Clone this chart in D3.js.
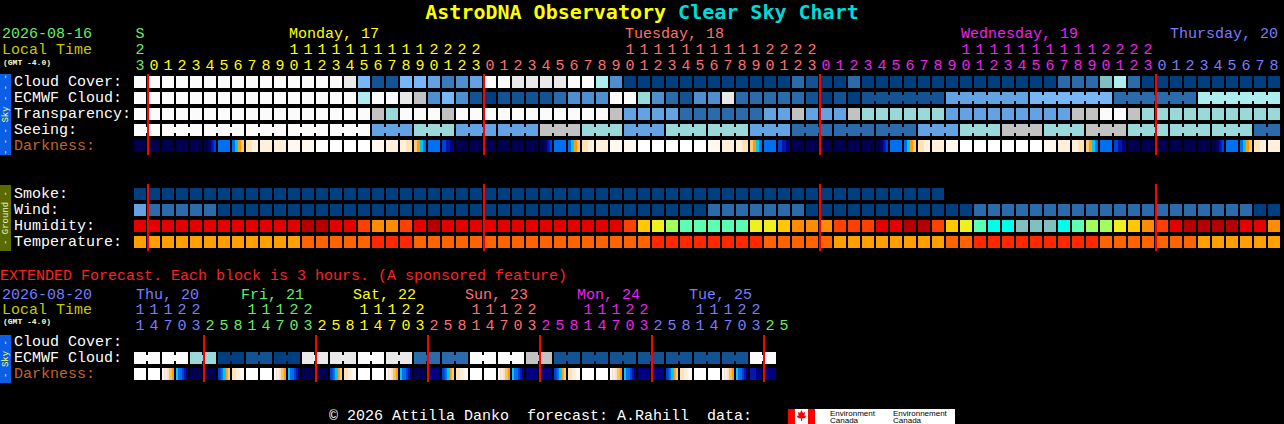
<!DOCTYPE html>
<html>
<head>
<meta charset="utf-8">
<script src="https://cdn.jsdelivr.net/npm/d3@7"></script>
<style>
  body { margin: 0; background: #000; }
  svg { display: block; }
  text { font-family: "Liberation Mono", "DejaVu Sans Mono", monospace; white-space: pre; }
</style>
</head>
<body>
<svg id="chart" width="1284" height="424"></svg>
<script>
// ---------- data ----------
const titleA = "AstroDNA Observatory";
const titleB = "Clear Sky Chart";

const mainDates    = [16, 17, 18, 19, 20];
const mainDayNames = ["S", "Monday, 17", "Tuesday, 18", "Wednesday, 19", "Thursday, 20"];
const mainHours = [
  [23],
  [0,1,2,3,4,5,6,7,8,9,10,11,12,13,14,15,16,17,18,19,20,21,22,23],
  [0,1,2,3,4,5,6,7,8,9,10,11,12,13,14,15,16,17,18,19,20,21,22,23],
  [0,1,2,3,4,5,6,7,8,9,10,11,12,13,14,15,16,17,18,19,20,21,22,23],
  [0,1,2,3,4,5,6,7,8]
];

const extDates    = [20, 21, 22, 23, 24, 25, 26];
const extDayNames = ["Thu, 20", "Fri, 21", "Sat, 22", "Sun, 23", "Mon, 24", "Tue, 25", ""];
const extHours = [
  [11,14,17,20,23],
  [2,5,8,11,14,17,20,23],
  [2,5,8,11,14,17,20,23],
  [2,5,8,11,14,17,20,23],
  [2,5,8,11,14,17,20,23],
  [2,5,8,11,14,17,20,23],
  [2,5]
];

const skyRowNames    = ["Cloud Cover:", "ECMWF Cloud:", "Transparency:", "Seeing:", "Darkness:"];
const groundRowNames = ["Smoke:", "Wind:", "Humidity:", "Temperature:"];
const extRowNames    = ["Cloud Cover:", "ECMWF Cloud:", "Darkness:"];

// sky levels: 0 = clear / excellent ... 12 = overcast / too cloudy
const cloudCover = [
  12,12,12,12,12,12,12,12,12,12,12,12,12,12,12, 11, 6, 1, 1, 6, 6, 5, 3, 4, 5,
  12,12, 11,11,11,11, 12,12, 9, 4,
  0,0,0,0,0,0,0,0,0,0,0,0, 2, 1, 0, 0, 2,
  0,0,0,0,0,0,0,0,0,0,0,0,0,0, 2, 2, 2, 7, 9, 2,
  0,0,0,0,0,0,0,0,0,0
];
const ecmwfCloud = [
  12,12,12,12,12,12,12,12,12,12,12,12,12,12,12,12, 9, 12, 12, 11, 10, 4, 6, 4, 1,
  0, 1,1,1,1, 2, 4,4,4, 12,12, 8, 4, 2, 1, 4, 4, 11, 2,2,2,2,2, 1, 0, 1, 0,
  1,1,1,1,1,1, 5,5,5,5,5,5, 6,6,6,6,6,6, 2,2,2,2,2,2, 9,9,9,9,9,9
];
const transparency = [
  12,12,12,12,12,12,12,12,12,12,12,12,12,12,12,12,12, 10, 8, 12, 12, 12, 10,
  12,12,12,12,12,12,12,12,12,12,12, 10, 5,5,5,5, 2,2,2,2,2,2, 5,5, 10, 5,5,5, 10,
  8,8,8,8,8,8, 5,5,5,5,5,5,5,5,5, 10,10, 12,12, 10,
  8,8,8,8,8,8,8,8,8,8
];
// seeing is given per 3-hour group
const seeingGroups = [12,12,12,12,12,12, 5, 8, 5, 5, 10, 8, 5, 8, 8, 5, 2, 2, 2, 5, 8, 10, 8, 10, 8, 8, 8, 2];

// darkness: 0 = dark night ... 11 = daylight; arrays are transitions inside an hour
const darknessMain = [
  0,0,0,0,0,[0,0,1,2,3],4,[4,5,6,7],[8,9],9,9,10,10,11,11,11,11,10,9,[9,8],[7,6,5,4],4,[3,2,1],
  0,0,0,0,0,0,[0,0,1,2,3],4,[4,5,6,7],[8,9],9,10,10,11,11,11,11,11,10,9,[9,8],[7,6,5,4],4,[3,2,1],
  0,0,0,0,0,0,[0,0,1,2,3],4,[4,5,6,7],[8,9],9,10,11,11,11,11,11,11,10,9,[9,8],[7,6,5,4],4,[3,2,1],
  0,0,0,0,0,0,[0,0,1,2,3],4,[4,5,6,7],[8,9],9
];

const smoke = [
  1,1,1,1,1,1,1,1,1,1,1,1,1,1,1,1,1,1,1,1,1,1,1,1,1,1,1,1,1,
  1,1,1,1,1,1,1,1,1,1,1,1,1,1,1,1,1,1,1,1,1,1,1,1,1,1,1,1,1
];
const windMph = [
  14, 8,8,8,8,8,
  4,4,4,4,4,4,4,4,4,4,4,4,4,4,4,4,4,4,4,4,4,4,4,4,4,4,4,4,4,4,4,4,4,4,4,
  8,8,8,8,8,8,8,
  4,4,4,4,4,4,4,4,4,4,4,4,
  8,8,8,8,8,8,8,8,8,8,8,8,8,8,8,8,8,8,8,8,
  4,4
];
const humidity = [
  90,90,90,90,90,90,90,90,90,90,90,90, 95,95, 90,90, 80, 75,75, 80, 90, 95,
  90,90,90,90,90,90,90,90,90,90,90,90,90, 80, 70, 65, 60, 55,55,55,55,55, 65,65, 70,
  75,75,75, 80,80,80, 90,90, 95,95, 80, 70, 65, 55, 50,50, 45,45,45, 50, 55, 60,60,
  65, 70, 75, 80, 90, 95,95,95,95, 90,90, 75
];
const temperature = [
  19,19,19,19,19,19,19,19,19,19,19,19, 23,23,23,23,23, 27,27,27,
  23,23,23,23,23,23,23,23,23,23,23,23,23,23,23,23,23,
  27,27,27,27,27,27,27,27, 23,23,23,23,23, 19,19,19,19,19,19,19,19, 23,23,
  27,27,27,27,27,27,27,27,27, 23,23,23,23,23,23,23, 19,19,19,19,19,19
];

// extended forecast: ECMWF per 6-hour pair, darkness per 3-hour block
const ecmwfExt = [12,12,8,0,1,0,11,11,12,11,2,2,12,12,10,1,1,1,1,1,1,1,12];
const darknessExt = [
  11,11,[10,9,8,7,6],[5,4,4,3,2,1],0,
  0,[3,4,5,6,7],[8,9,10],11,11,[10,9,8,7,6],[5,4,4,3,2,1],0,
  0,[3,4,5,6,7],[8,9,10],11,11,[10,9,8,7,6],[5,4,4,3,2,1],0,
  1,[3,4,5,6,7],[8,9,10],11,11,[10,9,8,7,6],[5,4,4,3,2,1],1,
  1,[3,4,5,6,7],[8,9,10],11,11,[10,9,8,7,6],[5,4,4,3,2,1],1,
  1,[3,4,5,6,7],[8,9,10],11,11,[10,9,8,7,6],[5,4,4,3,2,1],[2,1],
  1
];

const footerText = "\u00a9 2026 Attilla Danko  forecast: A.Rahill  data:";

// ---------- styles ----------
const skyPalette  = ["#003f7f","#135393","#2b6bab","#3b7bbb","#4f8fcf","#63a3e3","#77b7f7",
                     "#80c0c0","#99d9d9","#adeded","#c2c2c2","#e9e9e9","#fbfbfb"];
const darkPalette = ["#00004e","#000080","#0018b0","#0040d8","#0070f0","#00c8ff","#ff9c00",
                     "#ffc878","#ffe2b8","#fff0dc","#fff8f0","#ffffff"];
const dayPalette  = ["#66ee66", "#ffff00", "#ff7070", "#ee22ee", "#7b7bff"];
const dayColor    = date => dayPalette[(date - 16) % 5];

const smokeColor = d3.scaleThreshold().domain([2, 5, 10, 20]).range(["#003f7f","#2b6bab","#63a3e3","#99d9d9","#c2c2c2"]);
const windColor  = d3.scaleThreshold().domain([6, 12, 17, 29, 45]).range(["#003f7f","#2b6bab","#63a3e3","#99d9d9","#c2c2c2","#fbfbfb"]);
const humColor   = d3.scaleThreshold().domain([47, 52, 57, 62, 67, 72, 77, 85, 92])
  .range(["#80c0c0","#00ffea","#5affb4","#a0ff5a","#f0f01e","#ffc800","#ff8c00","#ff4000","#e40000","#b40000"]);
const tempColor  = d3.scaleThreshold().domain([21, 25]).range(["#ffa000","#ff6400","#ff2800"]);

const STEP = 14, BLOCK = 12, LEFT = 134;

const svg = d3.select("#chart");
svg.append("rect").attr("width", 1284).attr("height", 424).attr("fill", "#000");

// title
const title = svg.append("text")
  .attr("x", 642).attr("y", 12)
  .attr("text-anchor", "middle")
  .attr("dominant-baseline", "central")
  .style("font-family", "'DejaVu Sans Mono', monospace")
  .style("font-weight", "bold")
  .style("font-size", "20px");
title.append("tspan").attr("fill", "#ffff00").text(titleA);
title.append("tspan").attr("fill", "#00dada").text(" " + titleB);

// helpers
function label(x, y, txt, color, size = 15, anchor = "start") {
  return svg.append("text")
    .attr("x", x).attr("y", y)
    .attr("dominant-baseline", "central")
    .attr("text-anchor", anchor)
    .attr("fill", color)
    .style("font-size", size + "px")
    .text(txt);
}

function colScale(n) {
  return d3.scaleBand()
    .domain(d3.range(n))
    .range([LEFT, LEFT + STEP * n - (STEP - BLOCK)])
    .paddingInner((STEP - BLOCK) / STEP);
}

function rowScale(names, top) {
  return d3.scaleBand()
    .domain(names)
    .range([top, top + 16 * names.length - 4])
    .paddingInner(4 / 16);
}

// blocks, with optional bridges joining neighbours
function drawBlocks(g, x, y0, values, color, joined) {
  g.selectAll(null)
    .data(values)
    .join("rect")
      .attr("x", (d, i) => x(i))
      .attr("y", y0)
      .attr("width", x.bandwidth())
      .attr("height", BLOCK)
      .attr("fill", d => color(d));
  if (!joined) return;
  const links = values.map((d, i) => i).filter(i => i < values.length - 1 && joined(i));
  g.selectAll(null)
    .data(links)
    .join("rect")
      .attr("x", i => x(i) + x.bandwidth())
      .attr("y", y0 + 3)
      .attr("width", x.step() - x.bandwidth())
      .attr("height", BLOCK - 6)
      .attr("fill", i => color(values[i]));
}

// darkness: transitions drawn as stripes inside the block
function drawDarkness(g, x, y0, values) {
  values.forEach((v, i) => {
    const parts = Array.isArray(v) ? v : [v];
    const w = x.bandwidth() / parts.length;
    parts.forEach((p, k) => {
      g.append("rect")
        .attr("x", x(i) + k * w)
        .attr("y", y0)
        .attr("width", k < parts.length - 1 ? w + 0.4 : w)
        .attr("height", BLOCK)
        .attr("fill", darkPalette[p]);
    });
  });
}

function sideBar(y, h, txt, bg, fg) {
  svg.append("rect").attr("x", 0).attr("y", y).attr("width", 11).attr("height", h).attr("fill", bg);
  svg.append("text")
    .attr("transform", `translate(6,${y + h / 2}) rotate(-90)`)
    .attr("text-anchor", "middle")
    .attr("dominant-baseline", "central")
    .attr("fill", fg)
    .style("font-size", "9px")
    .text(txt);
}

function headerRows(cols, x, dates, names, yDay, yTens, yOnes, placeDay) {
  cols.forEach((c, i) => {
    const cx = x(i) + x.bandwidth() / 2;
    if (c.hour >= 10) label(cx, yTens, String(Math.floor(c.hour / 10)), dayColor(c.date), 15, "middle");
    label(cx, yOnes, String(c.hour % 10), dayColor(c.date), 15, "middle");
  });
  dates.forEach((d, k) => {
    if (!names[k]) return;
    const p = placeDay(d, k, names[k]);
    label(p.x, yDay, names[k], dayColor(d), 15, p.anchor);
  });
}

function redLines(x, cols, y1, y2) {
  svg.append("g").attr("shape-rendering", "crispEdges")
    .selectAll("rect")
    .data(cols)
    .join("rect")
      .attr("x", i => x(i) - 1)
      .attr("y", y1)
      .attr("width", 2)
      .attr("height", y2 - y1)
      .attr("fill", "#ff0000");
}

// ---------- main chart ----------
const mainCols = mainDates.flatMap((d, k) => mainHours[k].map(h => ({ date: d, hour: h })));
const xMain = colScale(mainCols.length);

label(2, 34, "2026-08-16", dayColor(16));
label(2, 50, "Local Time", "#c8c800");
label(3, 62, "(GMT -4.0)", "#ffffc0", 8).style("font-weight", "bold");

headerRows(mainCols, xMain, mainDates, mainDayNames, 34, 50, 66, (d, k) => {
  const i10 = mainCols.findIndex(c => c.date === d && c.hour === 10);
  if (i10 >= 0) return { x: xMain(i10) + 1, anchor: "start" };
  if (k === 0) return { x: xMain(0) + BLOCK / 2, anchor: "middle" };
  return { x: 1278, anchor: "end" };
});

const ySky = rowScale(skyRowNames, 76);
const yGround = rowScale(groundRowNames, 188);

skyRowNames.forEach(n => label(14, ySky(n) + 6, n, n === "Darkness:" ? "#c0652d" : "#ffffff"));
groundRowNames.forEach(n => label(14, yGround(n) + 6, n, "#ffffff"));

sideBar(74, 81, "- - - Sky - - -", "#0a5fe6", "#ffff66");
sideBar(185, 66, "- Ground -", "#5a6a00", "#f0f0d0");

const skyColor = d => skyPalette[d];
const gSky = svg.append("g").attr("shape-rendering", "crispEdges");
drawBlocks(gSky.append("g"), xMain, ySky("Cloud Cover:"), cloudCover, skyColor);
drawBlocks(gSky.append("g"), xMain, ySky("ECMWF Cloud:"), ecmwfCloud, skyColor,
  i => i >= 52 && ecmwfCloud[i] === ecmwfCloud[i + 1]);
drawBlocks(gSky.append("g"), xMain, ySky("Transparency:"), transparency, skyColor);
const seeingCols = mainCols.map((c, i) => seeingGroups[Math.floor((i + 1) / 3)]);
drawBlocks(gSky.append("g"), xMain, ySky("Seeing:"), seeingCols, skyColor,
  i => Math.floor((i + 1) / 3) === Math.floor((i + 2) / 3));
drawDarkness(svg.append("g"), xMain, ySky("Darkness:"), darknessMain);

const gGround = svg.append("g").attr("shape-rendering", "crispEdges");
drawBlocks(gGround.append("g"), xMain, yGround("Smoke:"), smoke, smokeColor);
drawBlocks(gGround.append("g"), xMain, yGround("Wind:"), windMph, windColor);
drawBlocks(gGround.append("g"), xMain, yGround("Humidity:"), humidity, humColor);
drawBlocks(gGround.append("g"), xMain, yGround("Temperature:"), temperature, tempColor);

// midnight markers
const midnights = mainCols.map((c, i) => i).filter(i => mainCols[i].hour === 0);
redLines(xMain, midnights, 74, 155);
redLines(xMain, midnights, 184, 251);

// ---------- extended forecast ----------
label(0, 276, "EXTENDED Forecast. Each block is 3 hours. (A sponsored feature)", "#ff2020");

const extCols = extDates.flatMap((d, k) => extHours[k].map(h => ({ date: d, hour: h })));
const xExt = colScale(extCols.length);

label(2, 295, "2026-08-20", dayColor(20));
label(2, 310, "Local Time", "#c8c800");
label(3, 321, "(GMT -4.0)", "#ffffc0", 8).style("font-weight", "bold");

headerRows(extCols, xExt, extDates, extDayNames, 295, 310, 326, d => {
  const i11 = extCols.findIndex(c => c.date === d && c.hour === 11);
  return { x: Math.max(xExt(i11) - 5, LEFT + 2), anchor: "start" };
});

const yExt = rowScale(extRowNames, 336);
extRowNames.forEach(n => label(14, yExt(n) + 6, n, n === "Darkness:" ? "#c0652d" : "#ffffff"));
sideBar(335, 48, "- Sky -", "#0a5fe6", "#ffff66");

const ecmwfExtCols = ecmwfExt.flatMap(v => [v, v]);
drawBlocks(svg.append("g").attr("shape-rendering", "crispEdges"), xExt, yExt("ECMWF Cloud:"),
  ecmwfExtCols, skyColor, i => i % 2 === 0);
drawDarkness(svg.append("g"), xExt, yExt("Darkness:"), darknessExt);

const extMidnights = extCols.map((c, i) => i).filter(i => i > 0 && extCols[i].date !== extCols[i - 1].date);
redLines(xExt, extMidnights, 335, 382);

// ---------- footer ----------
label(329, 416, footerText, "#ffffff");

const logo = svg.append("g");
logo.append("rect").attr("x", 788).attr("y", 409).attr("width", 167).attr("height", 15).attr("fill", "#ffffff");
logo.append("rect").attr("x", 788).attr("y", 409).attr("width", 7).attr("height", 15).attr("fill", "#ff0000");
logo.append("rect").attr("x", 808).attr("y", 409).attr("width", 7).attr("height", 15).attr("fill", "#ff0000");
logo.append("path")
  .attr("d", "M801.5,410 L803,413 L805,412 L804.5,416 L806.5,415.5 L805,418 L802,418.5 L802,421 L801,421 L801,418.5 L798,418 L796.5,415.5 L798.5,416 L798,412 L800,413 Z")
  .attr("fill", "#ff0000");
[["Environment", 830], ["Environnement", 893]].forEach(([t, x]) => {
  logo.append("text").attr("x", x).attr("y", 413).attr("dominant-baseline", "central")
    .attr("fill", "#000").style("font-family", "'Liberation Sans', sans-serif").style("font-size", "8px").text(t);
  logo.append("text").attr("x", x).attr("y", 420).attr("dominant-baseline", "central")
    .attr("fill", "#000").style("font-family", "'Liberation Sans', sans-serif").style("font-size", "8px").text("Canada");
});
</script>
</body>
</html>
